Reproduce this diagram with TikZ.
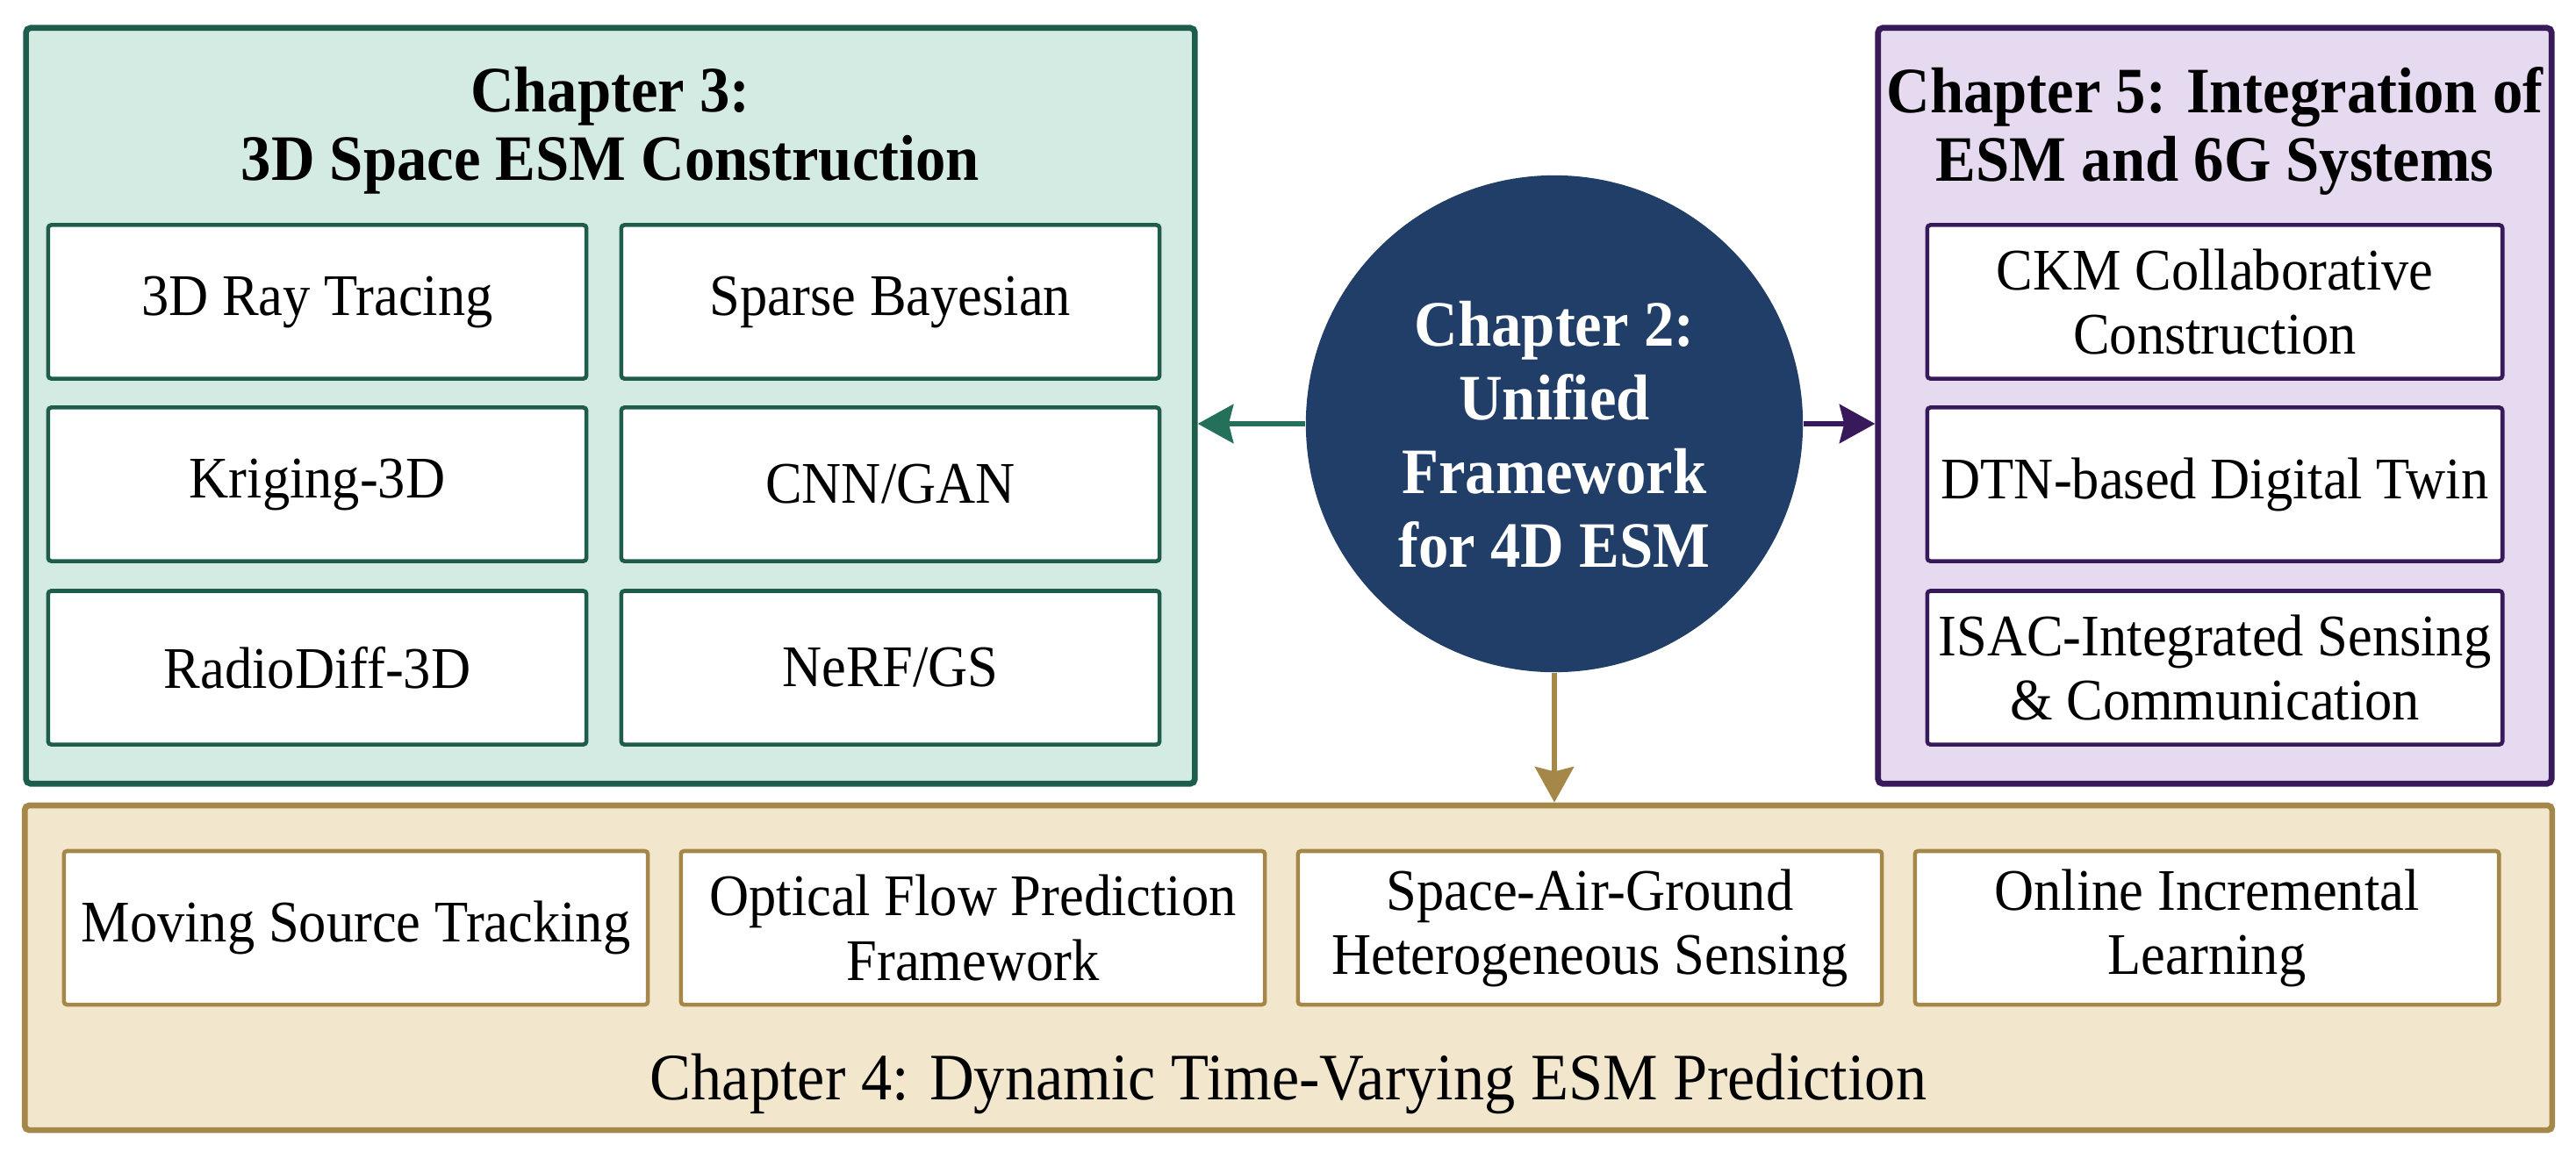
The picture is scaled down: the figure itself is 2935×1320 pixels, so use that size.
\documentclass[tikz,border=0pt]{standalone}
\usepackage{fontspec}
\setmainfont{Liberation Serif}[FakeStretch=0.93]
\usetikzlibrary{arrows.meta,calc}
\definecolor{gD}{HTML}{1E5C4B}
\definecolor{gL}{HTML}{D4EBE3}
\definecolor{gA}{HTML}{24705A}
\definecolor{pD}{HTML}{381A5A}
\definecolor{pL}{HTML}{E5DAEF}
\definecolor{tD}{HTML}{A58849}
\definecolor{tL}{HTML}{F2E6CC}
\definecolor{navy}{HTML}{213E69}
\begin{document}
\begin{tikzpicture}[x=0.01cm,y=-0.01cm,
  outer/.style={draw, line width=1.9pt, rounded corners=1.5pt, inner sep=0pt},
  itembox/.style={draw, fill=white, line width=1.3pt, rounded corners=1pt, inner sep=0pt, align=center, minimum height=1.75cm, font=\fontsize{19.1}{20.8}\selectfont},
  ttl/.style={align=center, inner sep=0pt, font=\bfseries\fontsize{21}{22.2}\selectfont},
  arr/.style={line width=1.9pt, -{Stealth[length=11.5pt,width=12.5pt,inset=1.5pt]}}
]
\fill[white] (0,0) rectangle (2935,1320);
\useasboundingbox (0,0) rectangle (2935,1320);

% Chapter 3 (green)
\node[outer, draw=gD, fill=gL, minimum width=13.31cm, minimum height=8.61cm] (g) at (695.5,462.5) {};
\node[ttl] (gt) at (695.5,149) {Chapter 3:\\3D Space ESM Construction};
\node[itembox, draw=gD, minimum width=6.13cm] (g1) at (361.5,344) {3D Ray Tracing};
\node[itembox, draw=gD, minimum width=6.13cm] (g2) at (1014.5,344) {Sparse Bayesian};
\node[itembox, draw=gD, minimum width=6.13cm] (g3) at (361.5,552) {Kriging-3D};
\node[itembox, draw=gD, minimum width=6.13cm] (g4) at (1014.5,552) {CNN/GAN};
\node[itembox, draw=gD, minimum width=6.13cm] (g5) at (361.5,761) {RadioDiff-3D};
\node[itembox, draw=gD, minimum width=6.13cm] (g6) at (1014.5,761) {NeRF/GS};

% Chapter 5 (purple)
\node[outer, draw=pD, fill=pL, minimum width=7.67cm, minimum height=8.61cm] (p) at (2523.5,462.5) {};
\node[ttl] (pt) at (2523.5,149) {Chapter 5: Integration of\\ESM and 6G Systems};
\node[itembox, draw=pD, minimum width=6.55cm] (p1) at (2523.5,344) {CKM Collaborative\\Construction};
\node[itembox, draw=pD, minimum width=6.55cm] (p2) at (2523.5,552) {DTN-based Digital Twin};
\node[itembox, draw=pD, minimum width=6.55cm] (p3) at (2523.5,761) {ISAC-Integrated Sensing\\\& Communication};

% Chapter 4 (tan)
\node[outer, draw=tD, fill=tL, minimum width=28.78cm, minimum height=3.70cm] (t) at (1468,1103) {};
\node[itembox, draw=tD, minimum width=6.65cm] (t1) at (405.5,1057.5) {Moving Source Tracking};
\node[itembox, draw=tD, minimum width=6.65cm] (t2) at (1108.5,1057.5) {Optical Flow Prediction\\Framework};
\node[itembox, draw=tD, minimum width=6.65cm] (t3) at (1811.5,1057.5) {Space-Air-Ground\\Heterogeneous Sensing};
\node[itembox, draw=tD, minimum width=6.65cm] (t4) at (2514.5,1057.5) {Online Incremental\\Learning};
\node[anchor=base, inner sep=0pt, font=\fontsize{21.5}{24}\selectfont] (tl) at (1468,1253) {Chapter 4: Dynamic Time-Varying ESM Prediction};

% Chapter 2 (circle)
\node[circle, fill=navy, minimum size=5.66cm, inner sep=0pt] (c) at (1771,483) {};
\node[anchor=north, inner sep=0pt, text=white, align=center, font=\bfseries\fontsize{21}{23.8}\selectfont] (ct) at (1771,343) {Chapter 2:\\Unified\\Framework\\for 4D ESM};

% arrows
\draw[arr, draw=gA] (c.west) -- (c.west -| g.east);
\draw[arr, draw=pD] (c.east) -- (c.east -| p.west);
\draw[arr, draw=tD] (c.south) -- (c.south |- t.north);
\end{tikzpicture}
\end{document}
